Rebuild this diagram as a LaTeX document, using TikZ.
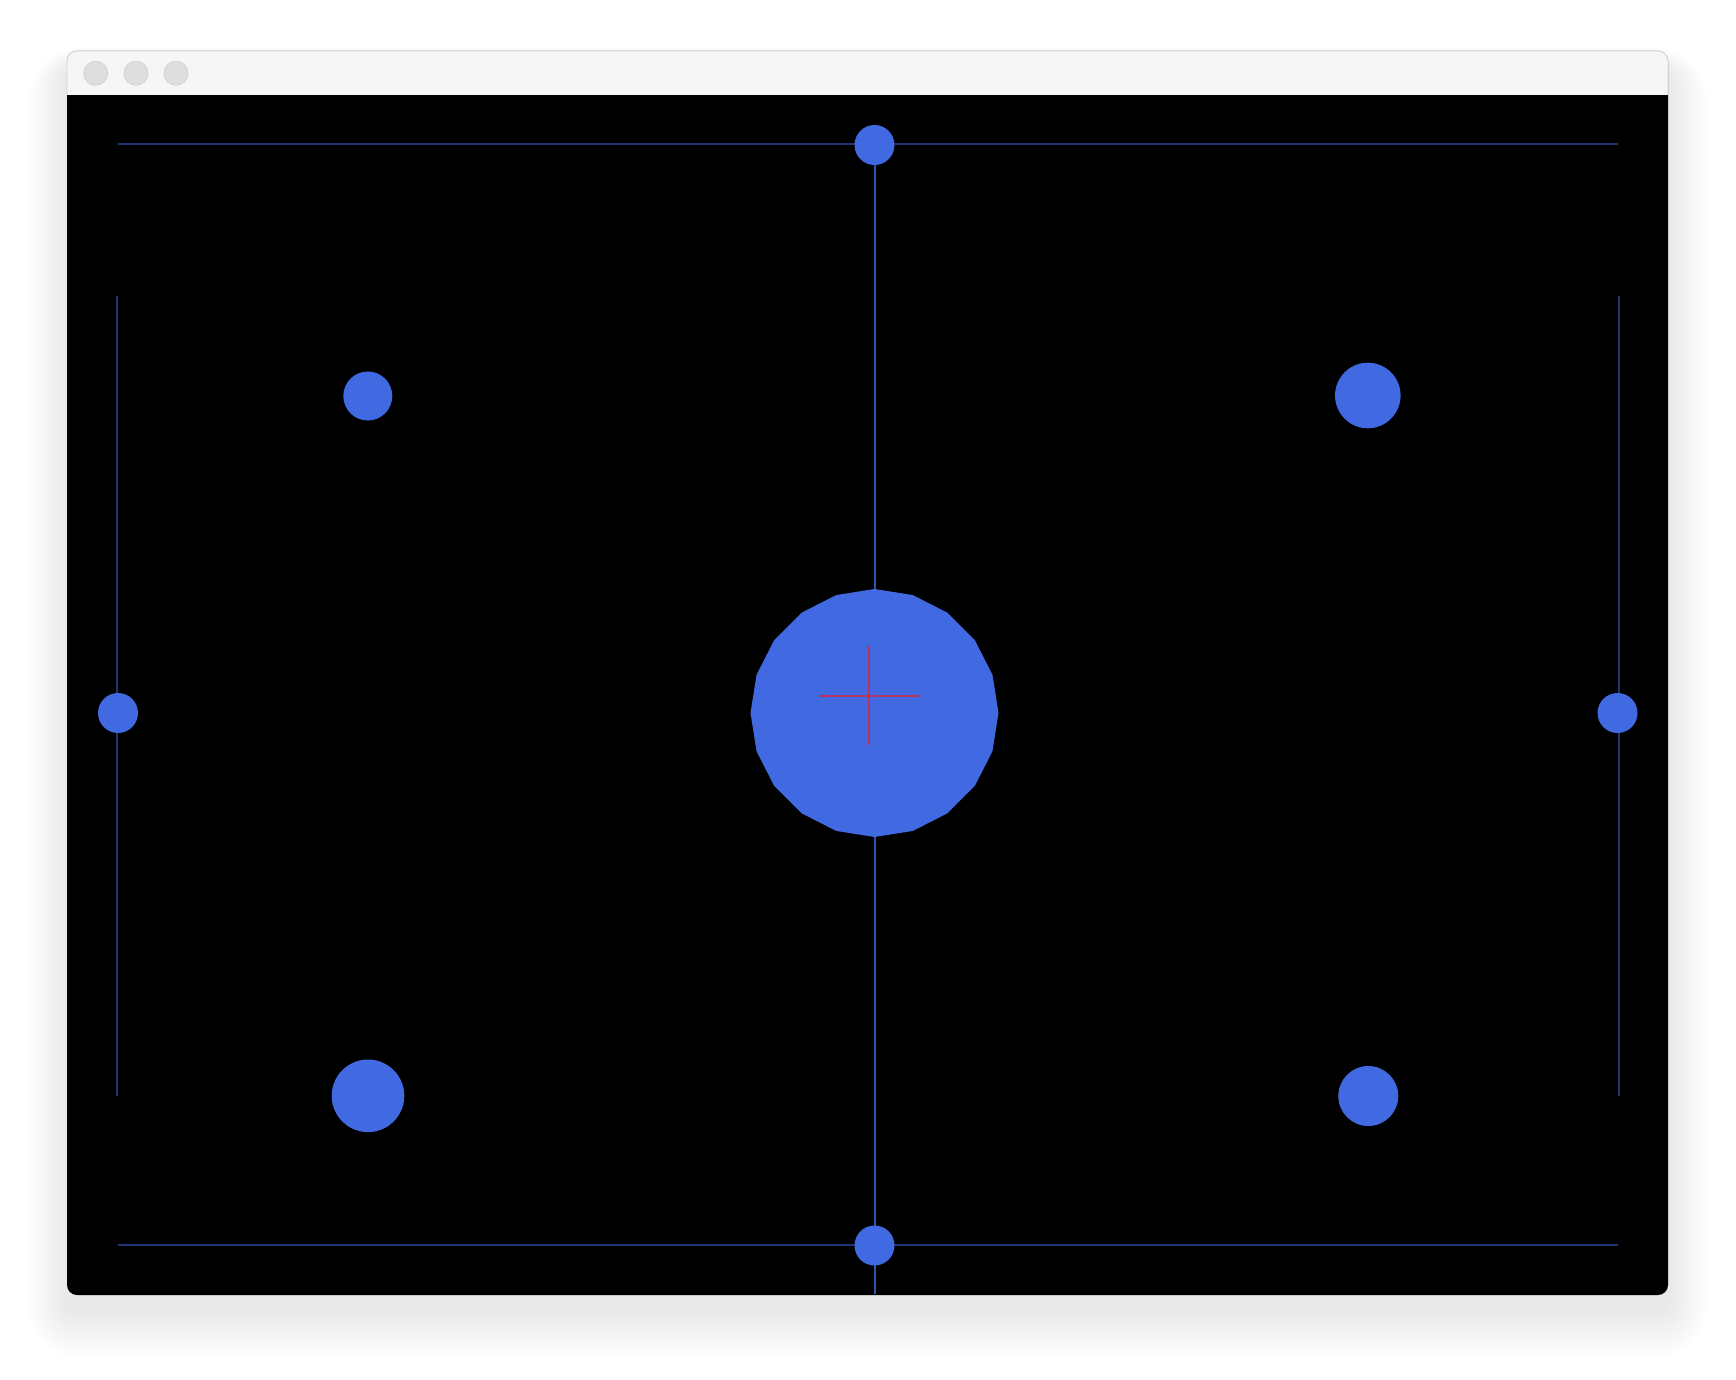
\documentclass[tikz,border=0pt]{standalone}
\usepackage{tikz}
\usetikzlibrary{shapes.geometric}
\definecolor{royal}{RGB}{65,105,225}
\definecolor{titlecol}{RGB}{246,246,246}
\definecolor{lightbtn}{RGB}{222,222,222}
\definecolor{lightbtnb}{RGB}{210,210,210}
\definecolor{crossred}{RGB}{180,52,100}
\tikzset{
  dot/.style={circle, fill=royal, inner sep=0pt, draw=none},
  guide/.style={draw=royal, opacity=0.5, line width=2pt},
  midguide/.style={draw=royal, opacity=0.8, line width=2pt},
  btn/.style={circle, fill=lightbtn, draw=lightbtnb, line width=0.8pt, inner sep=0pt, minimum size=24pt},
  cross/.style={draw=crossred, line width=2pt}
}
\begin{document}
\begin{tikzpicture}[x=1pt,y=-1pt]
\useasboundingbox[fill=white] (0,0) rectangle (1736,1380);
% shadow
\foreach \i in {1,...,22}{
  \fill[black, opacity=0.0055, rounded corners={(10+2*\i)*1pt}]
    ({67-1.8*\i},{51-1.0*\i+18}) rectangle ({1668+1.8*\i},{1295+2.2*\i+16});
}
% window
\fill[black, rounded corners=10pt] (67,51) rectangle (1668,1295);
\fill[titlecol] (67,95) [rounded corners=10pt] -- (67,51) -- (1668,51) [sharp corners] -- (1668,95) -- cycle;
\draw[lightbtnb, line width=0.8pt, rounded corners=10pt] (67,95) -- (67,51) -- (1668,51) -- (1668,95);
\node[btn] (b1) at (95.7,73.3) {};
\node[btn] (b2) at (136,73.3) {};
\node[btn] (b3) at (176,73.3) {};
% coordinates
\coordinate (ht1) at (118,144.5);
\coordinate (ht2) at (1618,144.5);
\coordinate (hb1) at (118,1245);
\coordinate (hb2) at (1618,1245);
\coordinate (ctop) at (874.5,145);
\coordinate (cbot) at (874.5,1294);
\coordinate (lv1) at (117,296);
\coordinate (lv2) at (117,1096);
\coordinate (rv1) at (1618.5,296);
\coordinate (rv2) at (1618.5,1096);
% guide lines
\draw[guide] (ht1) -- (ht2);
\draw[guide] (hb1) -- (hb2);
\draw[guide] (lv1) -- (lv2);
\draw[guide] (rv1) -- (rv2);
\draw[midguide] (ctop) -- (cbot);
% dots
\node[dot, minimum size=40pt] (top) at (ctop) {};
\node[dot, minimum size=40pt] (bot) at (874.5,1245.5) {};
\node[dot, minimum size=40pt] (left) at (118,713) {};
\node[dot, minimum size=40pt] (right) at (1617.5,713) {};
\node[dot, minimum size=49pt] (tl) at (367.8,396) {};
\node[dot, minimum size=65.6pt] (tr) at (1367.8,395.5) {};
\node[dot, minimum size=72.6pt] (bl) at (368,1095.8) {};
\node[dot, minimum size=60pt] (br) at (1368.3,1096) {};
\node[regular polygon, regular polygon sides=20, shape border rotate=9, fill=royal, inner sep=0pt, minimum size=248pt] (center) at (874.5,713) {};
% cross
\coordinate (cx) at (869.3,695.5);
\draw[cross] ([xshift=-50pt]cx) -- ([xshift=50pt]cx);
\draw[cross] ([yshift=-49.5pt]cx) -- ([yshift=49.5pt]cx);
\end{tikzpicture}
\end{document}
